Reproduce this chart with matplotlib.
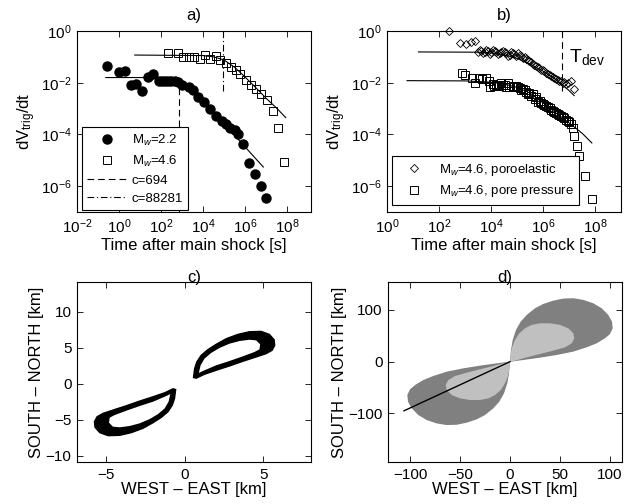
import numpy as np
import matplotlib.pyplot as plt
from matplotlib.ticker import NullLocator

plt.rcParams['font.family'] = ['Liberation Sans', 'DejaVu Sans']
plt.rcParams['mathtext.fontset'] = 'custom'
plt.rcParams['mathtext.rm'] = 'Liberation Sans'
plt.rcParams['mathtext.it'] = 'Liberation Sans:italic'
plt.rcParams['mathtext.bf'] = 'Liberation Sans:bold'

# ---- panel a (log10 of time [s] and log10 of rate) ----
mw22_t = [-0.57, 0.0, 0.30, 0.57, 0.81, 1.10, 1.37, 1.64, 1.90, 2.05, 2.20, 2.35, 2.48, 2.65, 2.81,
          3.02, 3.33, 3.52, 3.78, 4.03, 4.32, 4.60, 4.88, 5.11, 5.30, 5.51, 5.67, 5.90, 6.19, 6.46,
          6.75, 7.02]
mw22_v = [-1.36, -1.59, -1.54, -2.10, -2.05, -2.33, -1.78, -1.65, -1.93, -1.95, -1.93, -1.95, -1.93,
          -1.95, -1.96, -2.07, -2.18, -2.29, -2.57, -2.74, -3.00, -3.29, -3.48, -3.60, -3.75, -3.81,
          -3.97, -4.38, -5.09, -5.52, -5.98, -6.46]
mw46_t = [2.35, 2.83, 3.07, 3.31, 3.55, 3.84, 4.11, 4.35, 4.60, 4.83, 5.11, 5.35, 5.56, 5.78, 6.03,
          6.26, 6.51, 6.78, 7.05, 7.33, 7.59, 7.84]
mw46_v = [-0.85, -0.86, -1.02, -1.02, -1.02, -1.10, -0.93, -1.09, -0.97, -1.12, -1.25, -1.38, -1.51,
          -1.67, -1.90, -2.09, -2.26, -2.44, -2.65, -3.09, -3.75, -5.05]
fit22_t = [-0.63, 2.0, 2.5, 3.0, 3.5, 4.0, 4.5, 5.0, 5.5, 6.0, 6.5, 6.87]
fit22_v = [-1.80, -1.80, -1.86, -2.02, -2.32, -2.71, -3.14, -3.58, -4.03, -4.48, -4.93, -5.26]
fit46_t = [0.75, 4.0, 4.5, 5.0, 5.5, 6.0, 6.5, 7.0, 7.5, 7.94]
fit46_v = [-0.93, -0.95, -1.00, -1.12, -1.40, -1.78, -2.18, -2.60, -2.98, -3.35]
c_values = [694, 88281]

# ---- panel b ----
poro_t = [2.39, 2.82, 3.03, 3.24, 3.37, 3.50, 3.56, 3.63, 3.69, 3.75, 3.82, 3.88, 3.95, 4.01, 4.07,
          4.14, 4.20, 4.26, 4.33, 4.40, 4.46, 4.52, 4.59, 4.65, 4.72, 4.78, 4.85, 4.90, 4.97, 5.03,
          5.10, 5.16, 5.22, 5.29, 5.35, 5.41, 5.48, 5.54, 5.61, 5.67, 5.74, 5.80, 5.86, 5.93, 5.99,
          6.05, 6.12, 6.18, 6.25, 6.31, 6.37, 6.44, 6.50, 6.56, 6.62, 6.69, 6.75, 6.82, 6.88, 6.95,
          7.08, 7.20]
poro_v = [0.0, -0.47, -0.50, -0.43, -0.40, -0.81, -0.72, -0.76, -0.85, -0.81, -0.74, -0.79, -0.89,
          -0.83, -0.74, -0.78, -0.81, -0.88, -0.85, -0.80, -0.76, -0.82, -0.85, -0.98, -0.92, -0.81,
          -0.86, -0.89, -0.95, -0.85, -0.93, -0.98, -1.05, -1.02, -1.08, -1.11, -1.15, -1.20, -1.26,
          -1.30, -1.35, -1.41, -1.44, -1.50, -1.52, -1.56, -1.62, -1.67, -1.70, -1.73, -1.77, -1.82,
          -1.85, -1.89, -1.92, -1.95, -2.00, -1.98, -2.05, -2.02, -1.95, -2.24]
pp_t = [2.90, 2.99, 3.28, 3.37, 3.54, 3.67, 3.79, 3.92, 3.97, 4.07, 4.12, 4.18, 4.30, 4.39, 4.45,
        4.52, 4.58, 4.65, 4.71, 4.84, 4.90, 4.97, 5.03, 5.10, 5.16, 5.22, 5.29, 5.35, 5.42, 5.48,
        5.55, 5.61, 5.68, 5.74, 5.80, 5.87, 5.93, 5.99, 6.05, 6.12, 6.18, 6.25, 6.31, 6.38, 6.44,
        6.50, 6.56, 6.62, 6.69, 6.75, 6.82, 6.88, 6.95, 7.01, 7.08, 7.14, 7.20, 7.30, 7.40, 7.62,
        7.87]
pp_v = [-1.62, -1.71, -1.83, -2.00, -1.83, -1.87, -1.83, -1.93, -2.16, -2.05, -2.12, -2.09, -2.13,
        -2.03, -2.08, -2.09, -2.15, -2.00, -2.16, -2.18, -2.12, -2.13, -2.18, -2.22, -2.28, -2.26,
        -2.30, -2.35, -2.42, -2.39, -2.50, -2.44, -2.62, -2.55, -2.74, -2.70, -2.80, -2.84, -2.87,
        -2.90, -2.93, -2.98, -3.04, -3.09, -3.13, -3.18, -3.22, -3.25, -3.29, -3.33, -3.38, -3.43,
        -3.48, -3.52, -3.58, -3.77, -4.08, -4.46, -4.85, -5.60, -6.48]
fitporo_t = [1.21, 3.5, 4.0, 4.5, 5.0, 5.5, 6.0, 6.5, 7.0, 7.2]
fitporo_v = [-0.81, -0.82, -0.85, -0.92, -1.06, -1.28, -1.55, -1.88, -2.30, -2.50]
fitpp_t = [0.77, 3.0, 4.0, 4.5, 5.0, 5.5, 6.0, 6.5, 7.0, 7.5, 7.88]
fitpp_v = [-1.92, -1.93, -1.98, -2.05, -2.18, -2.40, -2.78, -3.17, -3.55, -3.95, -4.33]
t_dev = 5.2e6

# ---- panel c: upper-right lobe (outer edge and inner edge), km ----
lobe_out_x = [0.57, 0.64, 0.78, 1.06, 1.48, 2.01, 2.65, 3.39, 4.13, 4.87, 5.40, 5.70, 5.74, 5.57,
              5.19, 4.56, 3.71, 2.86, 2.01, 1.27, 0.74]
lobe_out_y = [0.83, 2.07, 3.00, 3.92, 4.70, 5.44, 6.22, 6.82, 7.19, 7.24, 6.82, 6.08, 5.30, 4.61,
              4.15, 3.69, 3.09, 2.44, 1.84, 1.29, 0.74]
lobe_in_x = [0.91, 1.02, 1.27, 1.69, 2.22, 2.86, 3.50, 4.13, 4.56, 4.81, 4.77, 4.45, 3.71, 2.86,
             2.01, 1.27]
lobe_in_y = [1.47, 2.53, 3.46, 4.24, 4.93, 5.53, 5.90, 6.08, 5.99, 5.44, 4.75, 4.38, 3.78, 3.13,
             2.53, 1.84]

# ---- panel d: upper-right lobes, km ----
big_x = [0, 1.0, 2.7, 6.0, 10.7, 16.7, 25.0, 33.3, 43.3, 53.3, 63.3, 73.3, 83.3, 91.7, 98.3, 102.0,
         102.7, 100.0, 95.0, 86.7, 76.7, 63.3, 46.7, 30.0, 13.3, 3.3]
big_y = [0, 22.6, 41.9, 61.3, 77.4, 90.3, 103.2, 111.6, 118.0, 122.0, 122.6, 119.4, 112.9, 103.2,
         90.3, 77.4, 64.5, 53.5, 45.2, 35.5, 27.7, 19.4, 12.9, 7.7, 3.2, 0.6]
small_x = [0, 0.7, 2.3, 5.0, 9.3, 15.0, 21.7, 30.0, 40.0, 50.0, 58.3, 63.3, 64.3, 61.7, 55.0, 43.3,
           30.0, 16.7, 5.0]
small_y = [0, 16.1, 29.0, 41.9, 54.8, 64.5, 71.0, 74.2, 74.2, 71.0, 64.5, 54.8, 45.2, 35.5, 27.7,
           21.3, 14.8, 8.4, 1.9]
fault_x = [0, -106]
fault_y = [0, -95]

TICK = 11
LAB = 12


def style(ax):
  ax.tick_params(direction='in', top=True, right=True, length=4, width=0.6, labelsize=TICK, pad=4)
  for s in ax.spines.values():
    s.set_linewidth(0.8)


def e(a):
  return np.power(10.0, np.array(a))


fig = plt.figure(figsize=(6.26, 5.04), dpi=100)
W, H = 626.0, 504.0
ax_a = fig.add_axes([77 / W, 292 / H, 234 / W, 181 / H])
ax_b = fig.add_axes([387 / W, 292 / H, 234 / W, 181 / H])
ax_c = fig.add_axes([77 / W, 42 / H, 234 / W, 180 / H])
ax_d = fig.add_axes([388 / W, 42 / H, 234 / W, 180 / H])

# a)
h1, = ax_a.plot(e(mw22_t), e(mw22_v), 'o', color='k', ms=6.5, label='M$_w$=2.2')
h2, = ax_a.plot(e(mw46_t), e(mw46_v), 's', mfc='none', mec='k', ms=5.5, mew=0.7, label='M$_w$=4.6')
ax_a.plot(e(fit22_t), e(fit22_v), 'k-', lw=0.8)
ax_a.plot(e(fit46_t), e(fit46_v), 'k-', lw=0.8)
h3, = ax_a.plot([c_values[0]] * 2, [1e-7, 1.2e-2], 'k--', lw=0.8, dashes=(6, 3.6),
                label='c=%d' % c_values[0])
h4, = ax_a.plot([c_values[1]] * 2, [1, 4e-3], 'k-.', lw=0.8, dashes=(6, 2.5, 1, 2.5),
                label='c=%d' % c_values[1])
ax_a.set_xscale('log')
ax_a.set_yscale('log')
ax_a.set_xlim(1e-2, 10 ** 9.14)
ax_a.set_ylim(1e-7, 1)
ax_a.set_xticks([1e-2, 1, 1e2, 1e4, 1e6, 1e8])
ax_a.set_yticks([1e-6, 1e-4, 1e-2, 1])
ax_a.xaxis.set_minor_locator(NullLocator())
ax_a.yaxis.set_minor_locator(NullLocator())
leg = ax_a.legend(handles=[h1, h2, h3, h4], loc='lower left', bbox_to_anchor=(0.02, 0.01),
                  borderaxespad=0, fontsize=9.5, fancybox=False, edgecolor='k', framealpha=1,
                  handlelength=3.0, handletextpad=0.4, labelspacing=0.45)
leg.get_frame().set_linewidth(0.8)
ax_a.set_title('a)', fontsize=LAB, pad=8)
ax_a.set_xlabel('Time after main shock [s]', fontsize=LAB, labelpad=1)
ax_a.set_ylabel('dV$_{\\rm trig}$/dt', fontsize=LAB, labelpad=2)
style(ax_a)

# b)
g1, = ax_b.plot(e(poro_t), e(poro_v), 'D', mfc='none', mec='k', ms=4.5, mew=0.6, clip_on=False,
                label='M$_w$=4.6, poroelastic')
g2, = ax_b.plot(e(pp_t), e(pp_v), 's', mfc='none', mec='k', ms=5.5, mew=0.7,
                label='M$_w$=4.6, pore pressure')
ax_b.plot(e(fitporo_t), e(fitporo_v), 'k-', lw=0.8)
ax_b.plot(e(fitpp_t), e(fitpp_v), 'k-', lw=0.8)
ax_b.plot([t_dev, t_dev], [1, 3.3e-3], 'k--', lw=0.8, dashes=(6, 3.6))
ax_b.text(1.0e7, 10 ** -1.2, 'T$_{\\rm dev}$', fontsize=14, ha='left', va='baseline')
ax_b.set_xscale('log')
ax_b.set_yscale('log')
ax_b.set_xlim(1, 1e9)
ax_b.set_ylim(1e-7, 1)
ax_b.set_xticks([1, 1e2, 1e4, 1e6, 1e8])
ax_b.set_yticks([1e-6, 1e-4, 1e-2, 1])
ax_b.xaxis.set_minor_locator(NullLocator())
ax_b.yaxis.set_minor_locator(NullLocator())
leg = ax_b.legend(handles=[g1, g2], loc='lower left', bbox_to_anchor=(0.02, 0.04),
                  borderaxespad=0, fontsize=9.5, fancybox=False, edgecolor='k', framealpha=1,
                  handlelength=2.6, handletextpad=0.6, labelspacing=0.45)
leg.get_frame().set_linewidth(0.8)
ax_b.set_title('b)', fontsize=LAB, pad=8)
ax_b.set_xlabel('Time after main shock [s]', fontsize=LAB, labelpad=1)
ax_b.set_ylabel('dV$_{\\rm trig}$/dt', fontsize=LAB, labelpad=2)
style(ax_b)

# c)
for sgn in (1, -1):
  ax_c.fill(sgn * np.array(lobe_out_x), sgn * np.array(lobe_out_y), color='k', lw=1.0, ec='k')
  ax_c.fill(sgn * np.array(lobe_in_x), sgn * np.array(lobe_in_y), color='w', lw=0)
ax_c.set_xlim(-6.85, 8.05)
ax_c.set_ylim(-10.9, 14.1)
ax_c.set_xticks([-5, 0, 5])
ax_c.set_yticks([-10, -5, 0, 5, 10])
ax_c.set_title('c)', fontsize=LAB, pad=0)
ax_c.set_xlabel('WEST \u2013 EAST [km]', fontsize=LAB, labelpad=0)
ax_c.set_ylabel('SOUTH \u2013 NORTH [km]', fontsize=LAB, labelpad=1)
style(ax_c)

# d)
for sgn in (1, -1):
  ax_d.fill(sgn * np.array(big_x), sgn * np.array(big_y), color='#808080', lw=0)
  ax_d.fill(sgn * np.array(small_x), sgn * np.array(small_y), color='#c0c0c0', lw=0)
ax_d.plot(fault_x, fault_y, 'k-', lw=1.0)
ax_d.set_xlim(-122, 112)
ax_d.set_ylim(-194, 154)
ax_d.set_xticks([-100, -50, 0, 50, 100])
ax_d.set_yticks([-100, 0, 100])
ax_d.set_title('d)', fontsize=LAB, pad=0)
ax_d.set_xlabel('WEST \u2013 EAST [km]', fontsize=LAB, labelpad=0)
ax_d.set_ylabel('SOUTH \u2013 NORTH [km]', fontsize=LAB, labelpad=1)
style(ax_d)

plt.savefig('out.png', dpi=100)
